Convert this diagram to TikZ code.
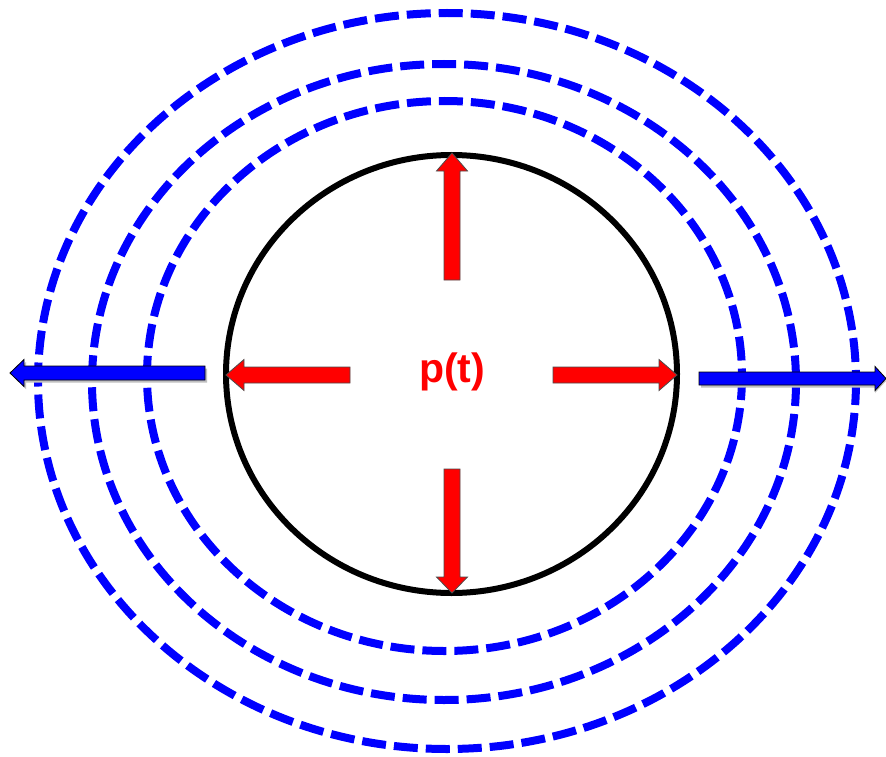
\documentclass[tikz,border=0pt]{standalone}
\usepackage{fontspec}
\setmainfont{Liberation Sans}
% style, x, y, angle, length, shaft half width, head half width, head length
\newcommand{\blockarr}[8]{%
  \draw[#1, shift={(#2,#3)}, rotate=#4]
    (0,-#6) -- ({#5-#8},-#6) -- ({#5-#8},-#7) -- (#5,0) -- ({#5-#8},#7) -- ({#5-#8},#6) -- (0,#6) -- cycle;}
\begin{document}
\begin{tikzpicture}[x=1pt,y=-1pt]
\tikzset{
  wave/.style={draw=blue, line width=8pt, dash pattern=on 24pt off 8pt},
  redarr/.style={fill=red, draw=black!70, line width=0.8pt, line join=miter},
  bluearr/.style={fill=blue, draw=black, line width=0.8pt, line join=miter},
  shadowarr/.style={fill=black!25, draw=none},
  body/.style={draw=black, line width=6pt}
}
\useasboundingbox (0,0) rectangle (886,757);
\fill[white] (0,0) rectangle (886,757);
% dashed wave fronts
\draw[wave] (444.5,376) ellipse [x radius=297.5, y radius=275];
\draw[wave] (444,382) ellipse [x radius=352, y radius=318];
\draw[wave] (447,381) ellipse [x radius=409, y radius=368];
% blue arrows
\blockarr{shadowarr}{207}{375.5}{180}{195}{7}{13.5}{14}
\blockarr{bluearr}{205}{373}{180}{195}{7}{13.5}{14}
\blockarr{shadowarr}{701}{381}{0}{185}{6.5}{12}{11}
\blockarr{bluearr}{699}{378.5}{0}{187}{6.5}{12}{11}
% body
\draw[body] (451.5,374) ellipse [x radius=225.5, y radius=219];
% red arrows
\blockarr{redarr}{452}{280}{90}{127}{8}{15.5}{18}
\blockarr{redarr}{452}{469}{270}{124}{8}{15.5}{16}
\blockarr{redarr}{350}{375}{180}{124}{8}{15.5}{18}
\blockarr{redarr}{553}{375}{0}{124}{8}{15.5}{18}
\node[text=red, font=\bfseries\fontsize{41}{41}\selectfont, inner sep=0pt] (lbl) at (452,372) {p(t)};
\end{tikzpicture}
\end{document}
